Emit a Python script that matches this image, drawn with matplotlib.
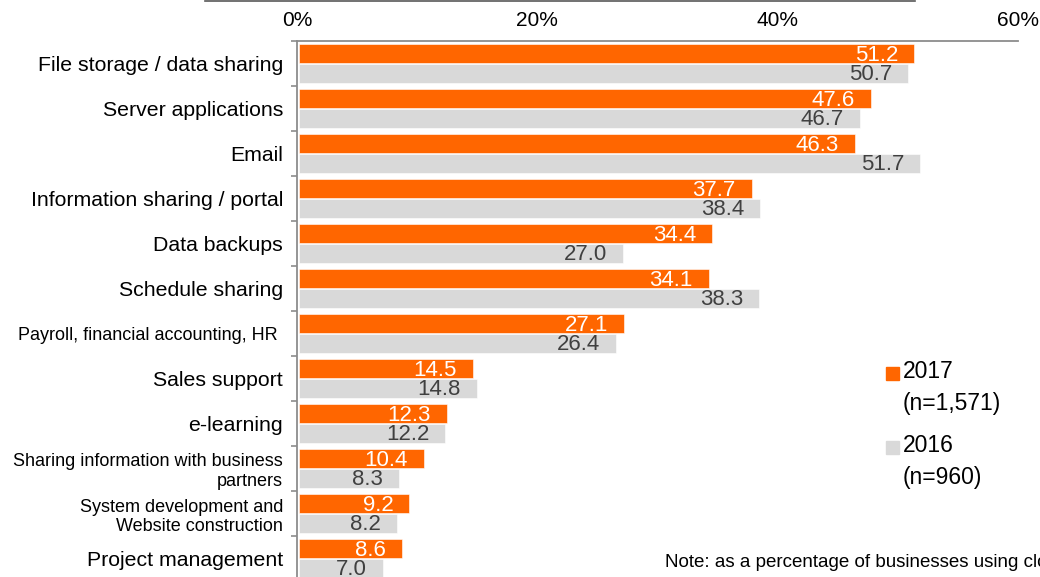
import matplotlib
matplotlib.use("Agg")
import matplotlib.pyplot as plt
from matplotlib.lines import Line2D
from matplotlib.patches import Rectangle
import numpy as np

plt.rcParams["font.family"] = ["Liberation Sans", "DejaVu Sans"]

CATEGORIES = [
    "File storage / data sharing",
    "Server applications",
    "Email",
    "Information sharing / portal",
    "Data backups",
    "Schedule sharing",
    "Payroll, financial accounting, HR ",
    "Sales support",
    "e-learning",
    "Sharing information with business\npartners",
    "System development and\nWebsite construction",
    "Project management",
]
LABEL_SIZES = [15.3, 15.3, 15.3, 15.3, 15.3, 15.3, 13, 15.3, 15.3, 13, 13, 15.3]
VALUES_2017 = [51.2, 47.6, 46.3, 37.7, 34.4, 34.1, 27.1, 14.5, 12.3, 10.4, 9.2, 8.6]
VALUES_2016 = [50.7, 46.7, 51.7, 38.4, 27.0, 38.3, 26.4, 14.8, 12.2, 8.3, 8.2, 7.0]
X_TICKS = [0, 20, 40, 60]

ORANGE = "#FF6600"
GRAY = "#D9D9D9"
SPINE = "#8C8C8C"

W, H = 1040, 577
fig = plt.figure(figsize=(W / 100, H / 100), dpi=100)
ax = fig.add_axes([297 / W, 1 - 581 / H, (1018 - 297) / W, 540 / H])

y = np.arange(len(CATEGORIES))
bh = 0.43
off = 0.217
ax.barh(y - off, VALUES_2017, height=bh, left=0.15, color=ORANGE, edgecolor="white", linewidth=0.4)
ax.barh(y + off, VALUES_2016, height=bh, left=0.15, color=GRAY, edgecolor="white", linewidth=0.4)

for yi, v in zip(y, VALUES_2017):
    ax.annotate(f"{v:.1f}", (v + 0.15, yi - off), xytext=(-11.5, -5.4), textcoords="offset points",
                ha="right", va="baseline", fontsize=16, color="white")
for yi, v in zip(y, VALUES_2016):
    ax.annotate(f"{v:.1f}", (v + 0.15, yi + off), xytext=(-11.5, -4.8), textcoords="offset points",
                ha="right", va="baseline", fontsize=16, color="#404040")

ax.set_xlim(0, 60)
ax.set_ylim(len(CATEGORIES) - 0.5, -0.5)

ax.xaxis.tick_top()
ax.set_xticks(X_TICKS)
ax.set_xticklabels([f"{t}%" for t in X_TICKS], fontsize=15)
ax.tick_params(axis="x", length=0, pad=8)

ax.set_yticks(y)
ax.set_yticklabels(CATEGORIES)
for lab, size in zip(ax.get_yticklabels(), LABEL_SIZES):
    lab.set_fontsize(size)
ax.set_yticks(np.arange(-0.5, len(CATEGORIES), 1), minor=True)
ax.tick_params(axis="y", which="major", length=0, pad=10)
ax.tick_params(axis="y", which="minor", length=4.3, width=1.2, color=SPINE)

for side in ("right", "bottom"):
    ax.spines[side].set_visible(False)
for side in ("top", "left"):
    ax.spines[side].set_color(SPINE)
    ax.spines[side].set_linewidth(1.3)

# stray rule along the very top edge
fig.add_artist(Line2D([205 / W, 915 / W], [1 - 0.8 / H] * 2, transform=fig.transFigure,
                      color="#595959", linewidth=1.2))

# legend drawn by hand so the swatch sits beside the first line
legend_items = [(ORANGE, "2017", "(n=1,571)", 367), (GRAY, "2016", "(n=960)", 441)]
for color, year, n, top in legend_items:
    fig.add_artist(Rectangle((886 / W, 1 - (top + 12.5) / H), 13 / W, 12.5 / H,
                             transform=fig.transFigure, color=color))
    fig.text(903 / W, 1 - (top + 11) / H, year, fontsize=16.5, va="baseline", ha="left")
    fig.text(903 / W, 1 - (top + 43) / H, n, fontsize=16.5, va="baseline", ha="left")

fig.text(665 / W, 1 - 567 / H, "Note: as a percentage of businesses using cloud services",
         fontsize=13.5, va="baseline", ha="left")

fig.savefig("out.png", dpi=100)
